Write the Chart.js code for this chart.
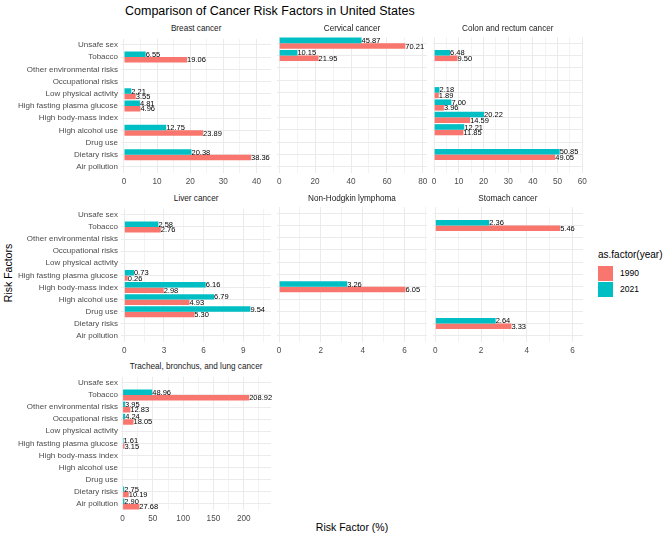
<!DOCTYPE html>
<html>
<head>
<meta charset="utf-8">
<script src="https://cdn.jsdelivr.net/npm/chart.js@4"></script>
<style>
  body { margin: 0; background: #fff; font-family: "Liberation Sans", Arial, sans-serif; }
  #page { position: relative; width: 669px; height: 537px; overflow: hidden; }
  .abs { position: absolute; white-space: nowrap; }
  canvas { position: absolute; }
  .strip { font-size: 8.2px; color: #1a1a1a; text-align: center; }
  .key { position: absolute; width: 15px; height: 15px; }
</style>
</head>
<body>
<div id="page">
  <div class="abs" style="left:125px;top:4px;font-size:12.5px;color:#000;">Comparison of Cancer Risk Factors in United States</div>
  <div class="abs" style="left:-27px;top:267px;font-size:10.5px;color:#000;transform:rotate(-90deg);width:70px;text-align:center;">Risk Factors</div>
  <div class="abs" style="left:302px;top:521px;font-size:10.5px;color:#000;width:100px;text-align:center;">Risk Factor (%)</div>
  <div class="abs" style="left:598px;top:249px;font-size:10px;color:#000;">as.factor(year)</div>
  <div class="key" style="left:598px;top:266px;background:#F8766D;"></div>
  <div class="key" style="left:598px;top:282px;background:#00BFC4;"></div>
  <div class="abs" style="left:620px;top:268px;font-size:8.5px;color:#000;">1990</div>
  <div class="abs" style="left:620px;top:284px;font-size:8.5px;color:#000;">2021</div>
</div>
<script>
const categories = ['Unsafe sex', 'Tobacco', 'Other environmental risks', 'Occupational risks',
  'Low physical activity', 'High fasting plasma glucose', 'High body-mass index',
  'High alcohol use', 'Drug use', 'Dietary risks', 'Air pollution'];

const breast1990 = [null, 19.06, null, null, 3.55, 4.96, null, 23.89, null, 38.36, null];
const breast2021 = [null, 6.55, null, null, 2.21, 4.81, null, 12.75, null, 20.38, null];
const cervical1990 = [70.21, 21.95, null, null, null, null, null, null, null, null, null];
const cervical2021 = [45.87, 10.15, null, null, null, null, null, null, null, null, null];
const colon1990 = [null, 9.50, null, null, 1.89, 3.96, 14.59, 11.85, null, 49.05, null];
const colon2021 = [null, 6.48, null, null, 2.18, 7.00, 20.22, 12.21, null, 50.85, null];
const liver1990 = [null, 2.76, null, null, null, 0.26, 2.98, 4.93, 5.30, null, null];
const liver2021 = [null, 2.58, null, null, null, 0.73, 6.16, 6.79, 9.54, null, null];
const nhl1990 = [null, null, null, null, null, null, 6.05, null, null, null, null];
const nhl2021 = [null, null, null, null, null, null, 3.26, null, null, null, null];
const stomach1990 = [null, 5.46, null, null, null, null, null, null, null, 3.33, null];
const stomach2021 = [null, 2.36, null, null, null, null, null, null, null, 2.64, null];
const lung1990 = [null, 208.92, 12.83, 18.05, null, 3.15, null, null, null, 10.19, 27.68];
const lung2021 = [null, 48.96, 3.95, 4.24, null, 1.61, null, null, null, 2.75, 2.90];

const RED = '#F8766D';
const TEAL = '#00BFC4';
const GRID = '#ebebeb';
const FONT = '"Liberation Sans", Arial, sans-serif';

// panel layout: plot area in page pixels, x range and tick step
const cols = [[121, 271.3], [276.8, 427.1], [432.6, 583]];
const rows = [[37, 173], [207, 342], [375, 510]];

const panels = [
  { title: 'Breast cancer', d1990: breast1990, d2021: breast2021, col: 0, row: 0, min: -0.9, max: 44.4, step: 10 },
  { title: 'Cervical cancer', d1990: cervical1990, d2021: cervical2021, col: 1, row: 0, min: -1.2, max: 82.3, step: 20 },
  { title: 'Colon and rectum cancer', d1990: colon1990, d2021: colon2021, col: 2, row: 0, min: -0.45, max: 60.3, step: 10 },
  { title: 'Liver cancer', d1990: liver1990, d2021: liver2021, col: 0, row: 1, min: -0.25, max: 11.1, step: 3 },
  { title: 'Non-Hodgkin lymphoma', d1990: nhl1990, d2021: nhl2021, col: 1, row: 1, min: -0.1, max: 7.08, step: 2 },
  { title: 'Stomach cancer', d1990: stomach1990, d2021: stomach2021, col: 2, row: 1, min: -0.1, max: 6.46, step: 2 },
  { title: 'Tracheal, bronchus, and lung cancer', d1990: lung1990, d2021: lung2021, col: 0, row: 2, min: -2.6, max: 245, step: 50 },
];

const valueLabels = {
  id: 'valueLabels',
  afterDatasetsDraw(chart) {
    const ctx = chart.ctx;
    ctx.save();
    ctx.font = '7.5px ' + FONT;
    ctx.fillStyle = '#000';
    ctx.textAlign = 'left';
    ctx.textBaseline = 'middle';
    chart.data.datasets.forEach((ds, i) => {
      chart.getDatasetMeta(i).data.forEach((bar, j) => {
        const v = ds.data[j];
        if (v === null || v === undefined) return;
        ctx.fillText(v.toFixed(2), bar.x, bar.y + 0.5);
      });
    });
    ctx.restore();
  }
};

const page = document.getElementById('page');
const PAD_TOP = 6, PAD_RIGHT = 10, X_AXIS_H = 18;

panels.forEach((p) => {
  const [left, right] = cols[p.col];
  const [top, bottom] = rows[p.row];
  const yw = p.col === 0 ? left : 8;

  const strip = document.createElement('div');
  strip.className = 'abs strip';
  strip.style.left = left + 'px';
  strip.style.width = (right - left) + 'px';
  strip.style.top = (top - 13) + 'px';
  strip.textContent = p.title;
  page.appendChild(strip);

  const canvas = document.createElement('canvas');
  const cw = Math.round(yw + (right - left) + PAD_RIGHT);
  const ch = Math.round(PAD_TOP + (bottom - top) + X_AXIS_H);
  canvas.width = cw;
  canvas.height = ch;
  canvas.style.width = cw + 'px';
  canvas.style.height = ch + 'px';
  canvas.style.left = (left - yw) + 'px';
  canvas.style.top = (top - PAD_TOP) + 'px';
  page.appendChild(canvas);

  const minor = p.step / 2;

  new Chart(canvas, {
    type: 'bar',
    data: {
      labels: categories,
      datasets: [
        { label: '2021', data: p.d2021, backgroundColor: TEAL },
        { label: '1990', data: p.d1990, backgroundColor: RED },
      ],
    },
    options: {
      indexAxis: 'y',
      responsive: false,
      animation: false,
      devicePixelRatio: 1,
      categoryPercentage: 0.9,
      barPercentage: 1.0,
      layout: { padding: { top: PAD_TOP, right: PAD_RIGHT, left: 0, bottom: 0 } },
      plugins: { legend: { display: false }, tooltip: { enabled: false } },
      scales: {
        x: {
          type: 'linear',
          min: p.min,
          max: p.max,
          afterBuildTicks(scale) {
            const ticks = [];
            for (let v = Math.ceil(p.min / minor) * minor; v <= p.max + 1e-9; v += minor) {
              ticks.push({ value: Math.round(v * 1000) / 1000 });
            }
            scale.ticks = ticks;
          },
          afterFit(scale) { scale.height = X_AXIS_H; },
          border: { display: false },
          grid: {
            drawTicks: false,
            color: GRID,
            lineWidth: (c) => (c.tick && Math.abs(c.tick.value / p.step - Math.round(c.tick.value / p.step)) < 1e-6 ? 1 : 0.6),
          },
          ticks: {
            padding: 4,
            maxRotation: 0,
            autoSkip: false,
            color: '#4d4d4d',
            font: { family: FONT, size: 8.2 },
            callback: (v) => (Math.abs(v / p.step - Math.round(v / p.step)) < 1e-6 ? String(Math.round(v)) : ''),
          },
        },
        y: {
          type: 'category',
          afterFit(scale) { scale.width = yw; },
          border: { display: false },
          grid: { offset: false, drawTicks: false, color: GRID, lineWidth: 1 },
          ticks: {
            display: p.col === 0,
            padding: 3,
            autoSkip: false,
            color: '#4d4d4d',
            font: { family: FONT, size: 8 },
          },
        },
      },
    },
    plugins: [valueLabels],
  });
});
</script>
</body>
</html>
